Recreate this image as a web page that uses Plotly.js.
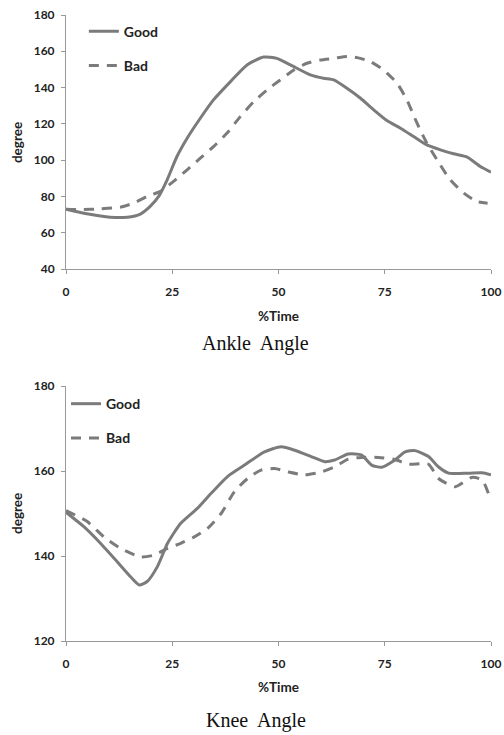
<!DOCTYPE html>
<html>
<head>
<meta charset="utf-8">
<script src="https://cdn.plot.ly/plotly-3.0.1.min.js"></script>
<style>html,body{margin:0;padding:0;background:#fff;}#chart{width:504px;height:735px;}</style>
</head>
<body>
<div id="chart"></div>
<script>
// Ankle angle (top chart)
const ankleGoodX = [0, 4.9, 10.4, 14.4, 17.5, 19.8, 21.8, 23.8, 26.1, 28.5, 31.6, 34.7, 38.7, 42.6, 46.5, 49.6, 52.8, 57.5, 60.6, 63.0, 66.1, 69.3, 72.4, 75.5, 78.7, 81.8, 84.9, 88.1, 91.2, 94.4, 97.5, 100];
const ankleGoodY = [73.0, 70.5, 68.6, 68.6, 70.3, 74.5, 80.0, 89.2, 102.0, 112.1, 123.1, 133.2, 143.3, 152.5, 156.8, 156.1, 152.5, 147.0, 145.1, 144.2, 139.6, 134.1, 127.7, 121.8, 117.6, 113.0, 108.4, 105.7, 103.5, 101.7, 96.5, 93.4];
const ankleBadX = [0, 3.4, 8.1, 12.8, 15.9, 19.1, 22.2, 25.3, 28.5, 31.6, 34.7, 37.9, 41.0, 44.2, 47.3, 50.4, 53.6, 56.7, 59.8, 63.0, 66.1, 68.5, 71.6, 74.7, 77.9, 80.2, 82.6, 84.9, 87.3, 90.4, 93.6, 96.7, 99.2];
const ankleBadY = [73.0, 72.7, 73.2, 74.1, 76.3, 80.0, 82.8, 88.3, 94.7, 101.1, 107.5, 114.9, 124.0, 132.3, 138.7, 144.2, 149.7, 153.4, 155.2, 156.1, 157.1, 156.5, 154.3, 149.7, 142.4, 133.2, 120.4, 109.4, 100.2, 89.2, 81.8, 77.2, 76.3];

// Knee angle (bottom chart)
const kneeGoodX = [0, 4.2, 8.1, 12.0, 15.2, 17.2, 19.1, 21.5, 23.9, 27.0, 30.9, 34.1, 38.0, 42.0, 46.7, 50.6, 53.8, 57.7, 60.9, 63.2, 66.4, 69.5, 71.9, 74.3, 77.4, 79.8, 82.1, 85.3, 87.6, 90.0, 94.7, 97.9, 100];
const kneeGoodY = [150.3, 146.9, 143.0, 138.7, 135.1, 133.2, 134.0, 137.5, 143.0, 147.7, 151.2, 154.7, 158.7, 161.4, 164.5, 165.7, 164.9, 163.4, 162.2, 162.6, 164.0, 163.8, 161.4, 160.9, 162.6, 164.5, 164.8, 163.4, 161.0, 159.5, 159.5, 159.6, 159.1];
const kneeBadX = [0, 5.0, 8.9, 12.8, 17.6, 20.7, 23.9, 27.0, 30.2, 33.3, 36.5, 39.6, 42.8, 45.9, 49.1, 52.2, 56.1, 60.1, 63.2, 66.4, 69.5, 73.5, 77.4, 80.6, 85.3, 87.6, 91.6, 95.5, 97.9, 99.4];
const kneeBadY = [150.7, 148.1, 144.5, 141.8, 139.8, 140.2, 141.8, 143.0, 144.5, 146.5, 150.0, 155.1, 158.3, 160.2, 160.6, 159.8, 159.1, 159.8, 161.0, 162.8, 163.2, 163.2, 162.7, 161.6, 161.6, 158.3, 156.3, 158.5, 157.9, 154.7];

const xTicks = [0, 25, 50, 75, 100];
const ankleTicks = [40, 60, 80, 100, 120, 140, 160, 180];
const kneeTicks = [120, 140, 160, 180];
const seriesNames = ['Good', 'Bad'];
const chartTitles = ['Ankle  Angle', 'Knee  Angle'];
const xTitle = '%Time';
const yTitle = 'degree';

const lineColor = '#7b7b7b';
const sans = 'Lato, "Open Sans", sans-serif';
const tickFont = {family: sans, size: 12, color: '#222', weight: 'bold'};
const labelFont = {family: sans, size: 13.5, color: '#222', weight: 'bold'};
const titleFont = {family: '"Liberation Serif", serif', size: 20, color: '#111'};

function tr(x, y, name, dash, xa, ya, leg, grp) {
  return {x: x, y: y, name: name, type: 'scatter', mode: 'lines',
    line: {color: lineColor, width: 3, dash: dash, shape: 'spline', smoothing: 0.6},
    xaxis: xa, yaxis: ya, legend: leg, legendgroup: grp};
}

const data = [
  tr(ankleGoodX, ankleGoodY, seriesNames[0], 'solid', 'x', 'y', 'legend', 'g1'),
  tr(ankleBadX, ankleBadY, seriesNames[1], '10px,8px', 'x', 'y', 'legend', 'b1'),
  tr(kneeGoodX, kneeGoodY, seriesNames[0], 'solid', 'x2', 'y2', 'legend2', 'g2'),
  tr(kneeBadX, kneeBadY, seriesNames[1], '10px,8px', 'x2', 'y2', 'legend2', 'b2')
];

function xax(anchor) {
  return {range: [0, 100], tickvals: xTicks, ticktext: xTicks.map(String), showgrid: false, zeroline: false,
    showline: true, linecolor: '#999', linewidth: 1, ticks: 'outside', ticklen: 4, tickcolor: '#999',
    tickfont: tickFont, ticklabelstandoff: 8, anchor: anchor, fixedrange: true};
}
function yax(range, ticks, domain, anchor) {
  return {range: range, tickvals: ticks, ticktext: ticks.map(String), showgrid: false, zeroline: false,
    showline: true, linecolor: '#999', linewidth: 1, ticks: 'outside', ticklen: 4, tickcolor: '#999',
    tickfont: tickFont, ticklabelstandoff: 4, domain: domain, anchor: anchor, fixedrange: true};
}

const legendCommon = {font: {family: sans, size: 14, color: '#222', weight: 'bold'},
  bgcolor: 'rgba(0,0,0,0)', tracegroupgap: 13, xanchor: 'left', yanchor: 'top', traceorder: 'grouped'};

function ann(text, x, y, font, angle) {
  return {text: text, xref: 'paper', yref: 'paper', x: x, y: y, xanchor: 'center', yanchor: 'middle',
    showarrow: false, font: font, textangle: angle || 0};
}

const layout = {
  width: 504, height: 735,
  margin: {l: 66, r: 13, t: 15, b: 94},
  paper_bgcolor: '#fff', plot_bgcolor: '#fff',
  xaxis: xax('y'),
  yaxis: yax([40, 180], ankleTicks, [0.5942, 1], 'x'),
  xaxis2: xax('y2'),
  yaxis2: yax([120, 180], kneeTicks, [0, 0.4073], 'x2'),
  legend: Object.assign({x: 0.042, y: 0.999}, legendCommon),
  legend2: Object.assign({x: 0.0, y: 0.404}, legendCommon),
  showlegend: true,
  annotations: [
    ann(xTitle, 0.5, 0.5192, labelFont),
    ann(xTitle, 0.5, -0.0735, labelFont),
    ann(chartTitles[0], 0.447, 0.476, titleFont),
    ann(chartTitles[1], 0.447, -0.1262, titleFont),
    ann(yTitle, -0.1153, 0.797, labelFont, -90),
    ann(yTitle, -0.1153, 0.2045, labelFont, -90)
  ]
};

Plotly.newPlot('chart', data, layout, {displayModeBar: false, staticPlot: true});
</script>
</body>
</html>
